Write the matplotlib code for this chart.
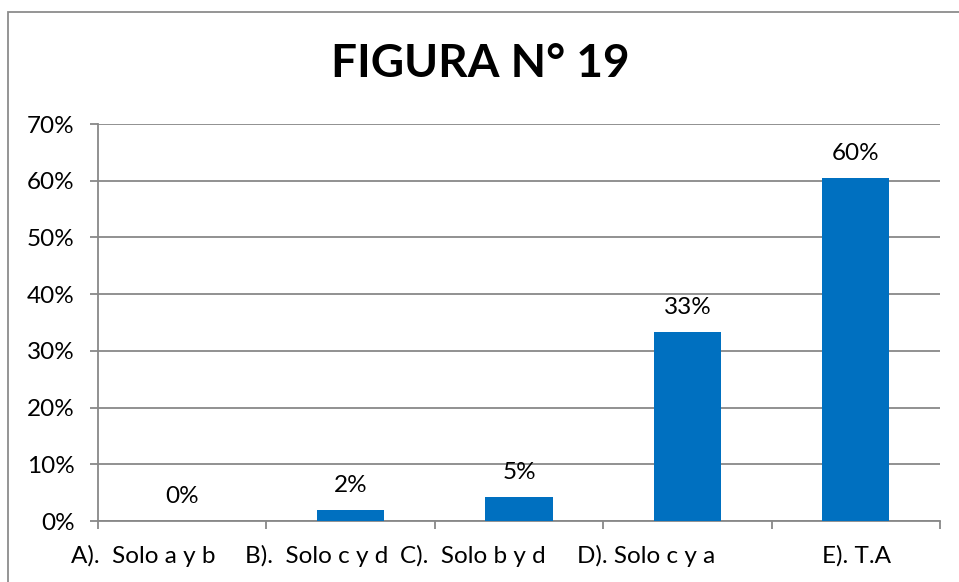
import matplotlib.pyplot as plt
from matplotlib.patches import Rectangle
from matplotlib.ticker import PercentFormatter

categories = ['A).  Solo a y b', 'B).  Solo c y d', 'C).  Solo b y d', 'D). Solo c y a', 'E). T.A']
values = [0.0, 2.0, 4.2, 33.3, 60.4]
value_labels = ['0%', '2%', '5%', '33%', '60%']
y_ticks = [0, 10, 20, 30, 40, 50, 60, 70]

# category labels sit left of their bars in the original (points)
label_shift = [-28, -24.5, -33, -30, 0.5]

plt.rcParams['font.family'] = ['Lato', 'DejaVu Sans']

fig = plt.figure(figsize=(9.59, 5.82), dpi=100)
ax = fig.add_axes([98 / 959, 1 - 521 / 582, 842 / 959, 397 / 582])

grid_color = '#888888'
bar_color = '#0070C0'
fs = 17.5

x = list(range(len(categories)))
ax.bar(x, values, width=0.4, color=bar_color, zorder=3)

for xi, v, lab in zip(x, values, value_labels):
    ax.annotate(lab, (xi, v), xytext=(0, 13), textcoords='offset points',
                ha='center', va='baseline', fontsize=fs, color='black')

# category labels drawn by hand so they can be shifted like the original
for xi, cat, dx in zip(x, categories, label_shift):
    ax.annotate(cat, (xi, 0), xycoords=ax.get_xaxis_transform(),
                xytext=(dx, -30), textcoords='offset points',
                ha='center', va='baseline', fontsize=fs, color='black',
                annotation_clip=False)

ax.set_xlim(-0.5, len(categories) - 0.5)
ax.set_ylim(0, 70)
ax.set_yticks(y_ticks)
ax.yaxis.set_major_formatter(PercentFormatter(decimals=0))
ax.set_xticks([i - 0.5 for i in range(len(categories) + 1)])
ax.set_xticklabels([])

ax.grid(axis='y', color=grid_color, linewidth=1.3, zorder=0)
for s in ['top', 'right']:
    ax.spines[s].set_visible(False)
for s in ['left', 'bottom']:
    ax.spines[s].set_color(grid_color)
    ax.spines[s].set_linewidth(1.3)

ax.tick_params(axis='y', length=6, width=1.3, color=grid_color, labelsize=fs, pad=11)
ax.tick_params(axis='x', length=6, width=1.3, color=grid_color)

fig.text(480 / 959, 1 - 64 / 582, 'FIGURA N° 19', ha='center', va='center',
         fontsize=33, fontweight='bold')

fig.patches.append(Rectangle((8 / 959, -0.1), 1.2, 1 - 12 / 582 + 0.1,
                             transform=fig.transFigure, fill=False,
                             edgecolor='#8c8c8c', linewidth=1.3))

fig.savefig('out.png', dpi=100)
